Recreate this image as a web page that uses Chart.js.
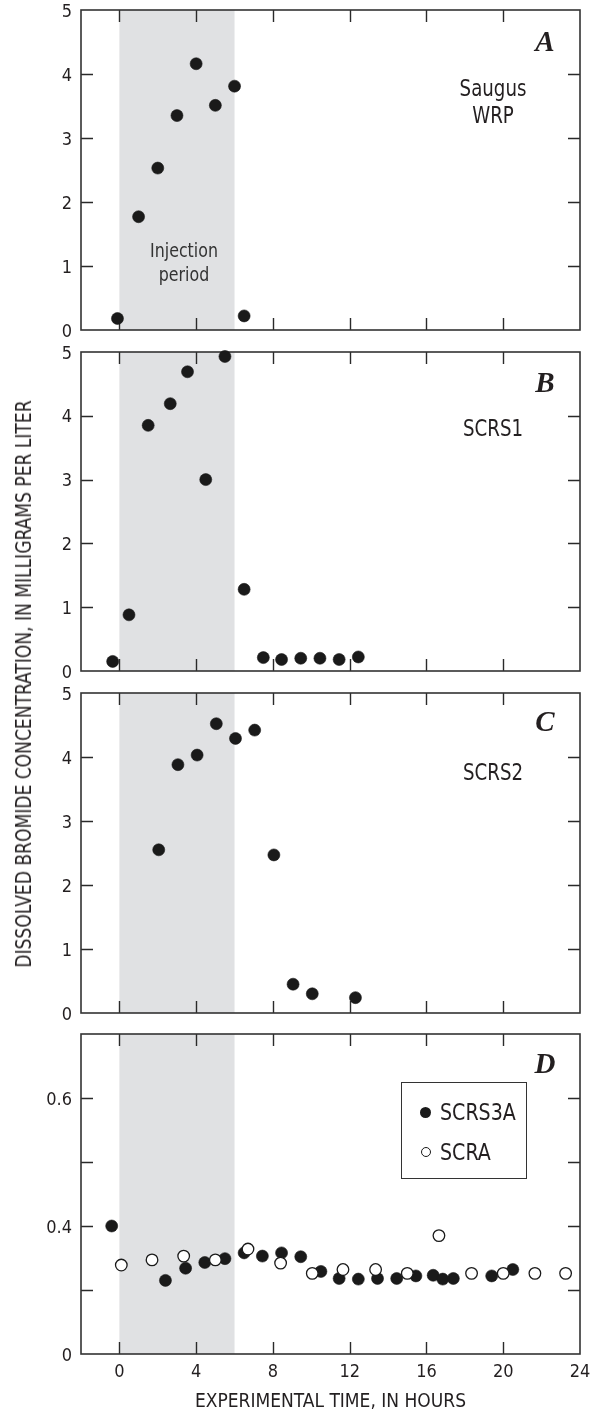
<!DOCTYPE html>
<html>
<head>
<meta charset="utf-8">
<script src="https://cdn.jsdelivr.net/npm/chart.js@4.4.0/dist/chart.umd.min.js"></script>
<style>
  body { margin: 0; background: #fff; }
  #page { position: relative; width: 591px; height: 1416px; overflow: hidden;
          font-family: 'Liberation Sans Narrow', 'DejaVu Sans Condensed', sans-serif; color: #231f20; }
  canvas { position: absolute; left: 0; }
  .lbl { position: absolute; transform: translate(-50%, -50%) scaleX(0.88); white-space: nowrap; text-align: center; }
  .letter { font-family: 'Liberation Serif', 'DejaVu Serif', serif; font-weight: bold; font-style: italic; font-size: 29px; line-height: 1;
            transform: translate(-50%, -50%); }
  .site { font-size: 23px; line-height: 27px; }
  #ytitle { position: absolute; left: 24px; top: 684px; font-size: 22px; line-height: 1;
            transform: translate(-50%, -50%) rotate(-90deg) scaleX(0.865); white-space: nowrap; }
  #legend { position: absolute; left: 401px; top: 1082px; width: 126px; height: 97px;
            border: 1px solid #333; box-sizing: border-box; font-size: 23px; }
  #legend .row { position: absolute; left: 0; height: 24px; line-height: 24px; }
  #legend .dot { position: absolute; left: 18px; top: 7px; width: 11px; height: 11px; border-radius: 50%; box-sizing: border-box; }
  #legend .txt { position: absolute; left: 38px; top: 0; transform: scaleX(0.92); transform-origin: left center; }
</style>
</head>
<body>
<div id="page">
  <canvas id="panelA" width="591" height="340" style="top:0px"></canvas>
  <canvas id="panelB" width="591" height="340" style="top:340px"></canvas>
  <canvas id="panelC" width="591" height="345" style="top:680px"></canvas>
  <canvas id="panelD" width="591" height="391" style="top:1025px"></canvas>

  <div class="lbl letter" style="left:545px;top:41px">A</div>
  <div class="lbl letter" style="left:545px;top:382px">B</div>
  <div class="lbl letter" style="left:545px;top:721px">C</div>
  <div class="lbl letter" style="left:545px;top:1063px">D</div>

  <div class="lbl site" style="left:493px;top:102px">Saugus<br>WRP</div>
  <div class="lbl site" style="left:493px;top:428px">SCRS1</div>
  <div class="lbl site" style="left:493px;top:772px">SCRS2</div>
  <div class="lbl" style="left:184px;top:262px;font-size:20px;line-height:24px;color:#333">Injection<br>period</div>

  <div id="ytitle">DISSOLVED BROMIDE CONCENTRATION, IN MILLIGRAMS PER LITER</div>

  <div id="legend">
    <div class="row" style="top:17px"><span class="dot" style="background:#1a1a1a"></span><span class="txt">SCRS3A</span></div>
    <div class="row" style="top:57px"><span class="dot" style="background:#fff;border:1.3px solid #1a1a1a;width:10px;height:10px;left:19px"></span><span class="txt">SCRA</span></div>
  </div>
</div>

<script>
// values (hours, mg/L)
var hoursA = [-0.1, 1, 2, 3, 4, 5, 6, 6.5];
var bromA  = [0.18, 1.77, 2.53, 3.35, 4.16, 3.51, 3.81, 0.22];

var hoursB = [-0.35, 0.5, 1.5, 2.65, 3.55, 4.5, 5.5, 6.5, 7.5, 8.45, 9.45, 10.45, 11.45, 12.45];
var bromB  = [0.15, 0.88, 3.85, 4.19, 4.69, 3.0, 4.93, 1.28, 0.21, 0.18, 0.2, 0.2, 0.18, 0.22];

var hoursC = [2.05, 3.05, 4.05, 5.05, 6.05, 7.05, 8.05, 9.05, 10.05, 12.3];
var bromC  = [2.55, 3.88, 4.03, 4.52, 4.29, 4.42, 2.47, 0.45, 0.30, 0.24];

var hoursSCRS3A = [-0.4, 2.4, 3.45, 4.45, 5.5, 6.5, 7.45, 8.45, 9.45, 10.5, 11.45, 12.45, 13.45, 14.45, 15.45, 16.35, 16.85, 17.4, 19.4, 20.5];
var bromSCRS3A  = [0.40, 0.315, 0.334, 0.343, 0.349, 0.358, 0.353, 0.358, 0.352, 0.329, 0.318, 0.317, 0.318, 0.318, 0.322, 0.323, 0.317, 0.318, 0.322, 0.332];

var hoursSCRA = [0.1, 1.7, 3.35, 5.0, 6.7, 8.4, 10.05, 11.65, 13.35, 15.0, 16.65, 18.35, 20.0, 21.65, 23.25];
var bromSCRA  = [0.339, 0.347, 0.353, 0.347, 0.364, 0.342, 0.326, 0.332, 0.332, 0.326, 0.385, 0.326, 0.326, 0.326, 0.326];

// axes
var injStart = 0, injEnd = 6;
var xMin = -2, xMax = 24;
var xMarks = [0, 4, 8, 12, 16, 20];
var xLabels = [0, 4, 8, 12, 16, 20, 24];
var yMarksABC = [1, 2, 3, 4];
var yLabelsABC = [0, 1, 2, 3, 4, 5];
// panel D axis is broken: bottom edge is labelled 0
var yMarksD = [0.3, 0.4, 0.5, 0.6];
var yLabelsD = [0.2, 0.4, 0.6];
var yLabelTextD = ['0', '0.4', '0.6'];

Chart.defaults.font.family = "'Liberation Sans Narrow', 'DejaVu Sans Condensed', sans-serif";
Chart.defaults.color = '#231f20';

function pts(xs, ys) {
  return xs.map(function (x, i) { return { x: x, y: ys[i] }; });
}

var frame_plugin = {
  id: 'frame',
  beforeDatasetsDraw: function (chart, args, opts) {
    var a = chart.chartArea, ctx = chart.ctx;
    var xs = chart.scales.x, ys = chart.scales.y;
    ctx.save();
    // injection period
    var x0 = xs.getPixelForValue(injStart), x1 = xs.getPixelForValue(injEnd);
    ctx.fillStyle = '#e0e1e3';
    ctx.fillRect(x0, a.top, x1 - x0, a.bottom - a.top);
    // inner tick marks on all four sides
    ctx.strokeStyle = '#2a2a2a';
    ctx.lineWidth = 1.4;
    var len = 12;
    ctx.beginPath();
    xMarks.forEach(function (v) {
      var px = Math.round(xs.getPixelForValue(v)) + 0.5;
      ctx.moveTo(px, a.top); ctx.lineTo(px, a.top + len);
      ctx.moveTo(px, a.bottom); ctx.lineTo(px, a.bottom - len);
    });
    opts.yMarks.forEach(function (v) {
      var py = Math.round(ys.getPixelForValue(v)) + 0.5;
      ctx.moveTo(a.left, py); ctx.lineTo(a.left + len, py);
      ctx.moveTo(a.right, py); ctx.lineTo(a.right - len, py);
    });
    ctx.stroke();
    // frame
    ctx.strokeStyle = '#333';
    ctx.lineWidth = 1.6;
    ctx.strokeRect(a.left, a.top, a.right - a.left, a.bottom - a.top);
    ctx.restore();
  }
};

function filled(data) {
  return { data: data, backgroundColor: '#1a1a1a', borderColor: '#1a1a1a',
           pointRadius: 6, pointBorderWidth: 0.6, clip: false, order: 2 };
}
function open(data) {
  return { data: data, backgroundColor: '#fff', borderColor: '#1a1a1a',
           pointRadius: 5.8, pointBorderWidth: 1.3, clip: false, order: 1 };
}

function make_panel(id, datasets, pad, yMin, yMax, yMarks, yLabels, yText, showX) {
  var ctx = document.getElementById(id).getContext('2d');
  return new Chart(ctx, {
    type: 'scatter',
    data: { datasets: datasets },
    plugins: [frame_plugin],
    options: {
      responsive: false,
      animation: false,
      layout: { padding: { top: pad[0], bottom: pad[1], left: 0, right: 11 } },
      plugins: { legend: { display: false }, tooltip: { enabled: false }, frame: { yMarks: yMarks } },
      scales: {
        x: {
          type: 'linear', min: xMin, max: xMax, display: showX,
          grid: { display: false, drawTicks: false }, border: { display: false },
          afterBuildTicks: function (s) { s.ticks = xLabels.map(function (v) { return { value: v }; }); },
          afterFit: function (s) {
            s.height = showX ? 62 : 0;
            s.paddingLeft = 0; s.paddingRight = 0;
          },
          ticks: { font: { size: 18 }, padding: 8, maxRotation: 0, autoSkip: false, color: '#231f20' },
          title: { display: true, text: 'EXPERIMENTAL TIME, IN HOURS', font: { size: 19 },
                   color: '#231f20', padding: { top: 0, bottom: 3 } }
        },
        y: {
          type: 'linear', min: yMin, max: yMax,
          grid: { display: false, drawTicks: false }, border: { display: false },
          afterBuildTicks: function (s) { s.ticks = yLabels.map(function (v) { return { value: v }; }); },
          afterFit: function (s) {
            s.width = 81;
            s.paddingTop = 0; s.paddingBottom = 0;
          },
          ticks: {
            font: { size: 18 }, padding: 9, labelOffset: 2, autoSkip: false, color: '#231f20',
            callback: function (v) {
              var i = yLabels.indexOf(v);
              return yText ? yText[i] : String(v);
            }
          }
        }
      }
    }
  });
}

make_panel('panelA', [filled(pts(hoursA, bromA))], [10, 10], 0, 5, yMarksABC, yLabelsABC, null, false);
make_panel('panelB', [filled(pts(hoursB, bromB))], [12, 9], 0, 5, yMarksABC, yLabelsABC, null, false);
make_panel('panelC', [filled(pts(hoursC, bromC))], [13, 12], 0, 5, yMarksABC, yLabelsABC, null, false);
make_panel('panelD', [filled(pts(hoursSCRS3A, bromSCRS3A)), open(pts(hoursSCRA, bromSCRA))],
           [9, 0], 0.2, 0.7, yMarksD, yLabelsD, yLabelTextD, true);
</script>
</body>
</html>
